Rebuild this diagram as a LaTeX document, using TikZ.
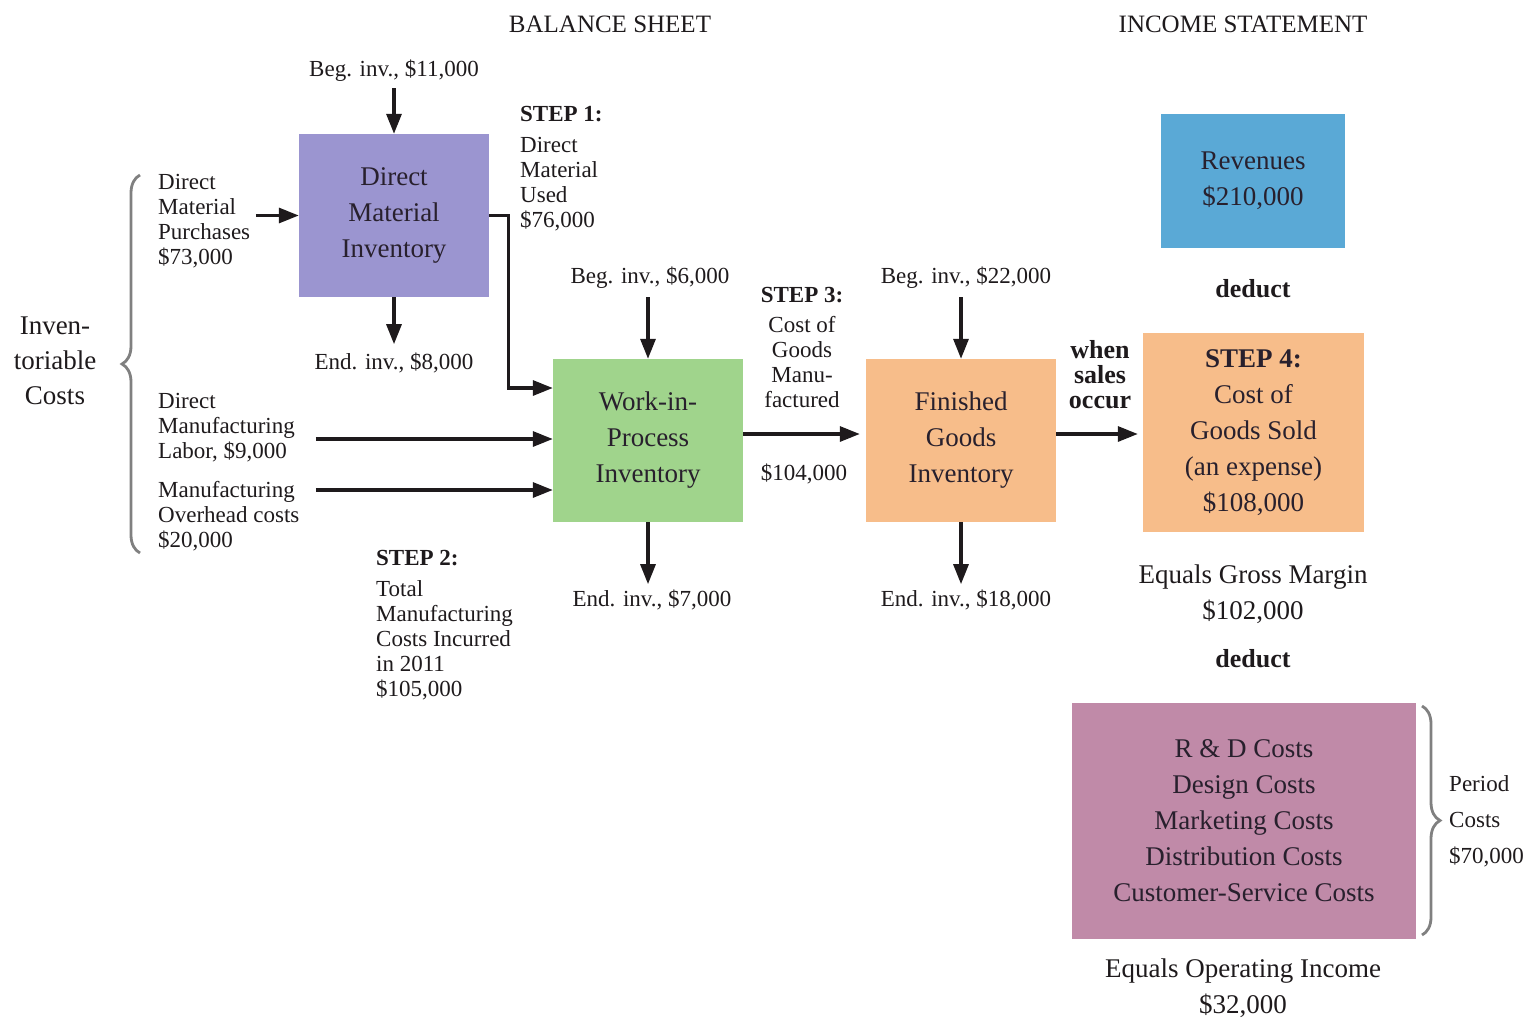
\documentclass[tikz,border=0pt]{standalone}
\usepackage{fontspec}
\setmainfont{Liberation Serif}
\usetikzlibrary{arrows.meta,calc,decorations.pathreplacing}
\definecolor{dmc}{RGB}{155,149,208}
\definecolor{wipc}{RGB}{160,212,140}
\definecolor{fgc}{RGB}{247,189,138}
\definecolor{revc}{RGB}{90,169,214}
\definecolor{perc}{RGB}{192,138,168}
\definecolor{ink}{RGB}{30,26,28}
\definecolor{boxink}{RGB}{40,32,45}
\definecolor{bracec}{RGB}{128,128,128}
\begin{document}
\begin{tikzpicture}[x=1pt,y=-1pt,
  box/.style={inner sep=0pt, align=center, text=boxink, font=\fontsize{27}{36}\selectfont},
  lbl/.style={inner sep=0pt, text=ink, font=\fontsize{23}{25}\selectfont},
  big/.style={inner sep=0pt, text=ink, align=center, font=\fontsize{27}{36}\selectfont},
  hdr/.style={inner sep=0pt, text=ink, font=\fontsize{25}{30}\selectfont},
  bld/.style={inner sep=0pt, text=ink, align=center, font=\bfseries\fontsize{26}{25}\selectfont},
  arr/.style={-{Triangle[length=20pt,width=15pt]}, line width=3.2pt, draw=ink},
  brc/.style={decorate, decoration={brace, amplitude=18pt}, line width=2.8pt, draw=bracec}
]
\useasboundingbox (0,0) rectangle (1533,1018);

% headers
\node[hdr] (bs) at (610,24) {BALANCE SHEET};
\node[hdr] (is) at (1243,24) {INCOME STATEMENT};

% boxes
\node[box, fill=dmc, minimum width=190pt, minimum height=163pt] (dm) at (394,215.5) {Direct\\Material\\Inventory};
\node[box, fill=wipc, minimum width=190pt, minimum height=163pt] (wip) at (648,440.5) {Work-in-\\Process\\Inventory};
\node[box, fill=fgc, minimum width=190pt, minimum height=163pt] (fg) at (961,440.5) {Finished\\Goods\\Inventory};
\node[box, fill=fgc, minimum width=221pt, minimum height=199pt] (cogs) at (1253.5,432.5) {\textbf{STEP 4:}\\Cost of\\Goods Sold\\(an expense)\\\$108,000};
\node[box, fill=revc, minimum width=184pt, minimum height=134pt] (rev) at (1253,181) {Revenues\\\$210,000};
\node[box, fill=perc, minimum width=344pt, minimum height=236pt] (per) at (1244,821) {R \& D Costs\\Design Costs\\Marketing Costs\\Distribution Costs\\Customer-Service Costs};

% inventory labels
\node[lbl, anchor=base] (beg1) at (394,76) {Beg. inv., \$11,000};
\node[lbl, anchor=base] (end1) at (394,369) {End. inv., \$8,000};
\node[lbl, anchor=base] (beg2) at (650,283) {Beg. inv., \$6,000};
\node[lbl, anchor=base] (end2) at (652,606) {End. inv., \$7,000};
\node[lbl, anchor=base] (beg3) at (966,283) {Beg. inv., \$22,000};
\node[lbl, anchor=base] (end3) at (966,606) {End. inv., \$18,000};

% left side labels
\node[lbl, align=left, anchor=north west] (dmp) at (158,174) {Direct\\Material\\Purchases\\\$73,000};
\node[lbl, align=left, anchor=north west] (dml) at (158,393) {Direct\\Manufacturing\\Labor, \$9,000};
\node[lbl, align=left, anchor=north west] (moh) at (158,481) {Manufacturing\\Overhead costs\\\$20,000};
\node[big, anchor=north, font=\fontsize{27}{35}\selectfont] (inv) at (55,317) {Inven-\\toriable\\Costs};

% steps
\node[lbl, align=left, anchor=north west] (s1) at (520,106) {\textbf{STEP 1:}\\[6pt]Direct\\Material\\Used\\\$76,000};
\node[lbl, align=left, anchor=north west] (s2) at (376,550) {\textbf{STEP 2:}\\[6pt]Total\\Manufacturing\\Costs Incurred\\in 2011\\\$105,000};
\node[lbl, align=center, anchor=north] (s3) at (802,287) {\textbf{STEP 3:}\\[5pt]Cost of\\Goods\\Manu-\\factured};
\node[lbl, anchor=base] (v104) at (804,480) {\$104,000};
\node[bld, anchor=north] (when) at (1100,340) {when\\sales\\occur};

% income statement texts
\node[bld, anchor=base] (ded1) at (1253,297) {deduct};
\node[big, anchor=north] (gm) at (1253,565) {Equals Gross Margin\\\$102,000};
\node[bld, anchor=base] (ded2) at (1253,667) {deduct};
\node[big, anchor=north] (oi) at (1243,959) {Equals Operating Income\\\$32,000};
\node[lbl, align=left, anchor=north west, font=\fontsize{23}{36}\selectfont] (pc) at (1449,775) {Period\\Costs\\\$70,000};

% braces
\draw[brc] (140,553) -- (140,175);
\draw[brc] (1422,706) -- (1422,935);

% arrows
\draw[arr, shorten <=7pt] (beg1.south -| dm.north) -- (dm.north);
\draw[arr, shorten >=8pt] (dm.south) -- (dm.south |- end1.north);
\draw[arr] ($(dm.west)+(-43,0)$) -- (dm.west);
\draw[arr] (dm.east) -- ++(19,0) |- ($(wip.west)+(0,-52.5)$);
\draw[arr] ($(wip.west)+(-237,-1.5)$) -- ($(wip.west)+(0,-1.5)$);
\draw[arr] ($(wip.west)+(-237,49.5)$) -- ($(wip.west)+(0,49.5)$);
\draw[arr, shorten <=9pt] (beg2.south -| wip.north) -- (wip.north);
\draw[arr, shorten >=5pt] (wip.south) -- (wip.south |- end2.north);
\draw[arr, shorten >=6pt] ($(wip.east)+(0,-6.5)$) -- ($(fg.west)+(0,-6.5)$);
\draw[arr, shorten <=9pt] (beg3.south -| fg.north) -- (fg.north);
\draw[arr, shorten >=5pt] (fg.south) -- (fg.south |- end3.north);
\draw[arr, shorten >=5pt] ($(fg.east)+(0,-6.5)$) -- ($(cogs.west)+(0,1.5)$);
\end{tikzpicture}
\end{document}
